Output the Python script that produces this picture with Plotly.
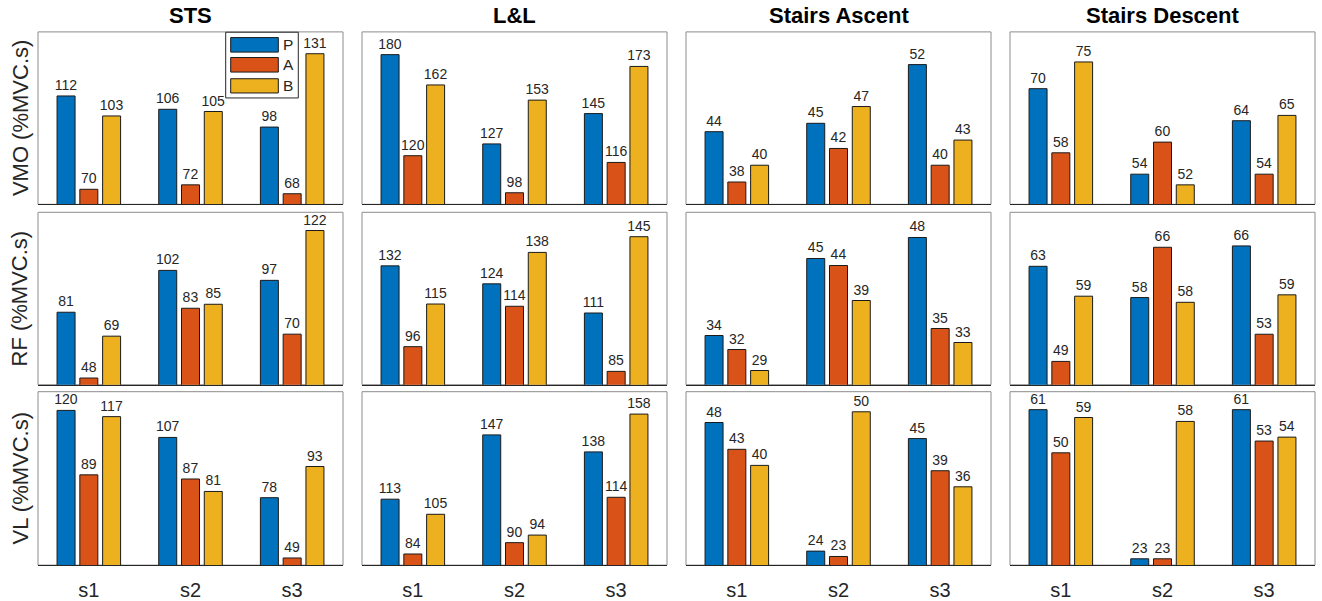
import plotly.graph_objects as go

# ---------------- data ----------------
activities = ["STS", "L&L", "Stairs Ascent", "Stairs Descent"]
y_titles = ["VMO (%MVC.s)", "RF (%MVC.s)", "VL (%MVC.s)"]
sessions = ["s1", "s2", "s3"]
groups = ["P", "A", "B"]

# STS
sts_vmo_P = [112, 106, 98]
sts_vmo_A = [70, 72, 68]
sts_vmo_B = [103, 105, 131]
sts_rf_P = [81, 102, 97]
sts_rf_A = [48, 83, 70]
sts_rf_B = [69, 85, 122]
sts_vl_P = [120, 107, 78]
sts_vl_A = [89, 87, 49]
sts_vl_B = [117, 81, 93]

# L&L
ll_vmo_P = [180, 127, 145]
ll_vmo_A = [120, 98, 116]
ll_vmo_B = [162, 153, 173]
ll_rf_P = [132, 124, 111]
ll_rf_A = [96, 114, 85]
ll_rf_B = [115, 138, 145]
ll_vl_P = [113, 147, 138]
ll_vl_A = [84, 90, 114]
ll_vl_B = [105, 94, 158]

# Stairs Ascent
sa_vmo_P = [44, 45, 52]
sa_vmo_A = [38, 42, 40]
sa_vmo_B = [40, 47, 43]
sa_rf_P = [34, 45, 48]
sa_rf_A = [32, 44, 35]
sa_rf_B = [29, 39, 33]
sa_vl_P = [48, 24, 45]
sa_vl_A = [43, 23, 39]
sa_vl_B = [40, 50, 36]

# Stairs Descent
sd_vmo_P = [70, 54, 64]
sd_vmo_A = [58, 60, 54]
sd_vmo_B = [75, 52, 65]
sd_rf_P = [63, 58.4, 66]
sd_rf_A = [49, 65.8, 53]
sd_rf_B = [58.6, 57.7, 58.8]
sd_vl_P = [61, 23, 61]
sd_vl_A = [50, 23, 53]
sd_vl_B = [59, 58, 54]

panels = [
    [[sts_vmo_P, sts_vmo_A, sts_vmo_B], [ll_vmo_P, ll_vmo_A, ll_vmo_B],
     [sa_vmo_P, sa_vmo_A, sa_vmo_B], [sd_vmo_P, sd_vmo_A, sd_vmo_B]],
    [[sts_rf_P, sts_rf_A, sts_rf_B], [ll_rf_P, ll_rf_A, ll_rf_B],
     [sa_rf_P, sa_rf_A, sa_rf_B], [sd_rf_P, sd_rf_A, sd_rf_B]],
    [[sts_vl_P, sts_vl_A, sts_vl_B], [ll_vl_P, ll_vl_A, ll_vl_B],
     [sa_vl_P, sa_vl_A, sa_vl_B], [sd_vl_P, sd_vl_A, sd_vl_B]],
]

# ---------------- style / layout ----------------
colors = ["#0072BD", "#D95319", "#EDB120"]
FONT = "Liberation Sans, Arial, Helvetica, sans-serif"
TXT = "#262626"
W, H = 1322, 601
col_left = [38, 362, 686, 1010]
col_w = 305
row_top = [32, 213, 393]
row_h = [173, 173, 174]
xpos = [1, 2, 3]

fig = go.Figure()
layout = dict(
    width=W, height=H, margin=dict(l=0, r=0, t=0, b=0),
    paper_bgcolor="white", plot_bgcolor="white",
    font=dict(family=FONT, color=TXT),
    barmode="group", bargap=0.328, bargroupgap=0.21,
    showlegend=False,
)
shapes = []
annotations = []

for r in range(3):
    for c in range(4):
        k = r * 4 + c + 1
        xa = "x" if k == 1 else f"x{k}"
        ya = "y" if k == 1 else f"y{k}"
        series = panels[r][c]
        allv = [v for s in series for v in s]
        lo, hi = 0.93 * min(allv), 1.075 * max(allv)
        for g in range(3):
            fig.add_trace(go.Bar(
                x=xpos, y=series[g], name=groups[g], xaxis=xa, yaxis=ya,
                marker=dict(color=colors[g], line=dict(color="#1a1a1a", width=1)),
                text=[f"{round(v)}" for v in series[g]],
                textposition="outside", constraintext="none", cliponaxis=False,
                textfont=dict(size=14, color=TXT, family=FONT),
                hoverinfo="skip",
            ))
        l = col_left[c]
        t = row_top[r]
        h = row_h[r]
        layout["xaxis" + ("" if k == 1 else str(k))] = dict(
            domain=[l / W, (l + col_w) / W], anchor=ya, range=[0.5, 3.5],
            tickvals=xpos, ticktext=sessions, showticklabels=(r == 2),
            ticks="", showline=True, linecolor="#262626", linewidth=1,
            showgrid=False, zeroline=False,
            tickfont=dict(size=20, color=TXT, family=FONT),
            ticklabelstandoff=7,
        )
        layout["yaxis" + ("" if k == 1 else str(k))] = dict(
            domain=[1 - (t + h) / H, 1 - t / H], anchor=xa, range=[lo, hi],
            showticklabels=False, showgrid=False, zeroline=False, showline=False,
            ticks="",
        )
        shapes.append(dict(type="rect", xref=f"{xa} domain", yref=f"{ya} domain",
                           x0=0, x1=1, y0=0, y1=1, line=dict(color="#8c8c8c", width=1),
                           fillcolor="rgba(0,0,0,0)", layer="below"))
        if r == 2:
            # top tick marks (MATLAB box ticks)
            layout[f"xaxis{12 + c + 1}"] = dict(
                overlaying=xa, side="top", anchor=ya, range=[0.5, 3.5],
                tickvals=xpos, ticks="inside", ticklen=4, tickcolor="#8c8c8c",
                showticklabels=False, showline=False, showgrid=False, zeroline=False,
            )

# column titles
for c in range(4):
    annotations.append(dict(
        text=f"<b>{activities[c]}</b>", xref="paper", yref="paper",
        x=(col_left[c] + col_w / 2) / W, y=1 - 16 / H, xanchor="center", yanchor="middle",
        showarrow=False, font=dict(size=22, color="#000000", family=FONT),
    ))
# row labels
for r in range(3):
    annotations.append(dict(
        text=y_titles[r], xref="paper", yref="paper", textangle=-90,
        x=20 / W, y=1 - (row_top[r] + row_h[r] / 2) / H, xanchor="center", yanchor="middle",
        showarrow=False, font=dict(size=22, color=TXT, family=FONT),
    ))

# legend in first panel (MATLAB-style boxed legend)
leg_box = dict(x0=0.6154, x1=0.8534, y0=0.6168, y1=0.998)
shapes.append(dict(type="rect", xref="x domain", yref="y domain", **leg_box,
                   line=dict(color="#262626", width=1), fillcolor="white", layer="above"))
leg_rows = [(0.8827, 0.967), (0.767, 0.8514), (0.6457, 0.7283)]
for g in range(3):
    y0, y1 = leg_rows[g]
    shapes.append(dict(type="rect", xref="x domain", yref="y domain",
                       x0=0.6318, x1=0.7879, y0=y0, y1=y1,
                       line=dict(color="#1a1a1a", width=1), fillcolor=colors[g], layer="above"))
    annotations.append(dict(
        text=groups[g], xref="x domain", yref="y domain", x=0.797, y=(y0 + y1) / 2,
        xanchor="left", yanchor="middle", showarrow=False,
        font=dict(size=15.5, color=TXT, family=FONT),
    ))

layout["shapes"] = shapes
layout["annotations"] = annotations
fig.update_layout(**layout)

fig.write_html("out.html", config={"displayModeBar": False},
               post_script="document.body.style.margin='0';")
